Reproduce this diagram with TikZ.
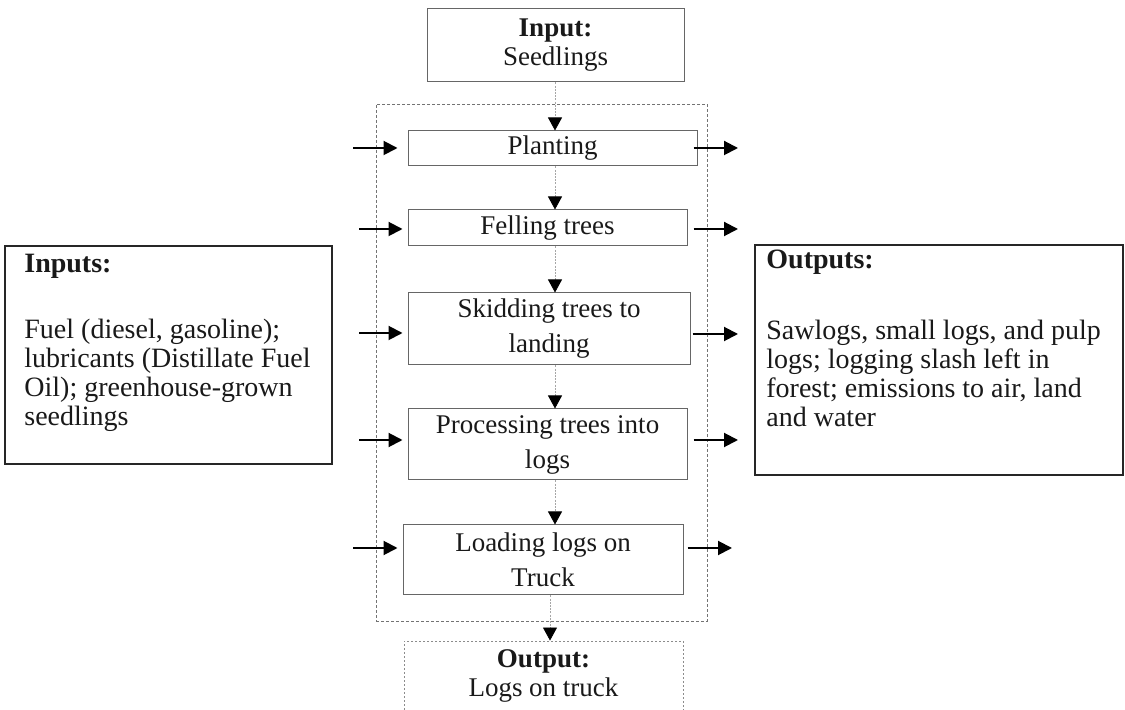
\documentclass[tikz,border=0pt]{standalone}
\usepackage{fontspec}
\setmainfont{Liberation Serif}
\usetikzlibrary{arrows.meta,calc}
\begin{document}
\begin{tikzpicture}[x={(0.5pt,0)}, y={(0,-0.5pt)},
  every node/.style={font=\fontsize{13.5}{14.5}\selectfont, text=black!90},
  procbox/.style={draw=black!60, line width=0.5pt, align=center, inner sep=0pt},
  sidebox/.style={draw=black!85, line width=0.8pt, inner sep=0pt},
  frame/.style={draw=black!55, line width=0.45pt, dash pattern=on 1.5pt off 1pt, inner sep=0pt},
  outbox/.style={draw=black!45, line width=0.45pt, dash pattern=on 1pt off 1pt, inner sep=0pt},
  txt/.style={inner sep=0pt},
  sidetxt/.style={inner sep=0pt, align=left, anchor=north west, font=\fontsize{14}{14.5}\selectfont},
  harrow/.style={line width=1pt, black, -{Triangle[length=7pt,width=7pt]}},
  varrow/.style={draw=black!35, line width=0.4pt, dash pattern=on 1pt off 0.6pt,
    -{Triangle[length=6.5pt,width=7pt,color=black]}}
]
\useasboundingbox (0,0) rectangle (1125,710);
\clip (0,0) rectangle (1125,710);

% frame and boxes
\node[frame, minimum width=165.5pt, minimum height=258.5pt] (frame) at (541.5,362.5) {};
\node[procbox, minimum width=128.5pt, minimum height=36.5pt] (inp) at (555.5,45.5) {\textbf{Input:}\\Seedlings};
\node[procbox, minimum width=144.5pt, minimum height=17.5pt] (plant) at (552.5,148.5) {Planting};
\node[procbox, minimum width=139.5pt, minimum height=18pt] (fell) at (547.5,228) {Felling trees};
\node[procbox, minimum width=141pt, minimum height=36pt] (skid) at (549,329) {Skidding trees to\\[3pt]landing};
\node[procbox, minimum width=139.5pt, minimum height=35.5pt] (proc) at (547.5,444.5) {Processing trees into\\[3pt]logs};
\node[procbox, minimum width=140pt, minimum height=35pt] (load) at (543,560) {Loading logs on\\[3pt]Truck};
\node[outbox, minimum width=139.5pt, minimum height=59.5pt] (out) at (543.5,700.5) {};
\node[txt, align=center] (outtxt) at (543.5,676) {\textbf{Output:}\\Logs on truck};

% side boxes
\node[sidebox, minimum width=163.5pt, minimum height=109pt] (inbox) at (168.5,355) {};
\node[sidetxt] (intxt) at (24,253.5) {\textbf{Inputs:}\\[18.5pt]Fuel (diesel, gasoline);\\lubricants (Distillate Fuel\\Oil); greenhouse-grown\\seedlings};
\node[sidebox, minimum width=184pt, minimum height=115pt] (outbox) at (939,360) {};
\node[sidetxt] (outtxt2) at (766,250) {\textbf{Outputs:}\\[21pt]Sawlogs, small logs, and pulp\\logs; logging slash left in\\forest; emissions to air, land\\and water};

% vertical connectors
\coordinate (colA) at (555,0);
\coordinate (colB) at (550,0);
\draw[varrow] (inp.south -| colA) -- (plant.north -| colA);
\draw[varrow] (plant.south -| colA) -- (fell.north -| colA);
\draw[varrow] (fell.south -| colA) -- (skid.north -| colA);
\draw[varrow] (skid.south -| colA) -- (proc.north -| colA);
\draw[varrow] (proc.south -| colA) -- (load.north -| colA);
\draw[varrow] (load.south -| colB) -- (out.north -| colB);

% left arrows
\coordinate (l1) at (353,148);
\coordinate (l2) at (359,229);
\coordinate (l3) at (359,333);
\coordinate (l4) at (359,440);
\coordinate (l5) at (353,548);
\draw[harrow] (l1) -- ($(l1 -| plant.west)+(-10,0)$);
\draw[harrow] (l2) -- ($(l2 -| fell.west)+(-5,0)$);
\draw[harrow] (l3) -- ($(l3 -| skid.west)+(-5,0)$);
\draw[harrow] (l4) -- ($(l4 -| proc.west)+(-5,0)$);
\draw[harrow] (l5) -- ($(l5 -| load.west)+(-5,0)$);

% right arrows
\coordinate (r1) at (738,148);
\coordinate (r2) at (738,229);
\coordinate (r3) at (738,334);
\coordinate (r4) at (738,440);
\coordinate (r5) at (732,548);
\draw[harrow] ($(r1 -| plant.east)+(-4,0)$) -- (r1);
\draw[harrow] ($(r2 -| fell.east)+(6,0)$) -- (r2);
\draw[harrow] ($(r3 -| skid.east)+(2,0)$) -- (r3);
\draw[harrow] ($(r4 -| proc.east)+(6,0)$) -- (r4);
\draw[harrow] ($(r5 -| load.east)+(4,0)$) -- (r5);
\end{tikzpicture}
\end{document}
